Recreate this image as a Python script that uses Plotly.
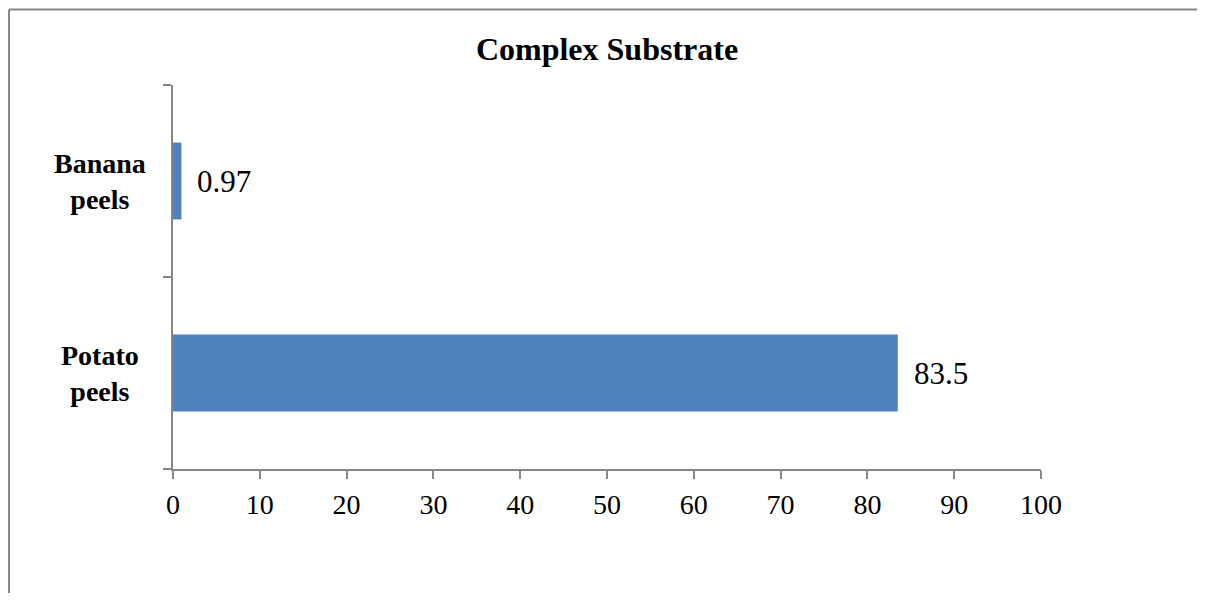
import plotly.graph_objects as go

categories = ["Potato peels", "Banana peels"]
category_labels = ["Potato<br>peels", "Banana<br>peels"]
values = [83.5, 0.97]
value_labels = ["83.5", "0.97"]
x_ticks = [0, 10, 20, 30, 40, 50, 60, 70, 80, 90, 100]
title_text = "Complex Substrate"

# the page is shown with the browser's default 8px body margin; compensate
OFF = 8
W, H = 1205 - 2 * OFF, 601 - 2 * OFF
px_left, px_right, px_top, px_bottom = 173 - OFF, 1041 - OFF, 85 - OFF, 469 - OFF
L, R, T, B = px_left, W - px_right, px_top, H - px_bottom
pw, ph = W - L - R, H - T - B

SERIF = "Liberation Serif, Times New Roman, serif"
AXIS_GRAY = "#878787"

fig = go.Figure()
fig.add_trace(go.Bar(
    x=values, y=categories, orientation="h",
    marker=dict(color="#4F81BD", line=dict(width=0)),
    hoverinfo="skip",
))

annotations = []
for c, lab in zip(categories, category_labels):
    annotations.append(dict(
        x=(100 - OFF - L) / pw, xref="paper", y=c, yref="y",
        text="<b>" + lab + "</b>", showarrow=False, xanchor="center", yanchor="middle",
        align="center", font=dict(family=SERIF, size=28, color="black"),
    ))
for c, v, t in zip(categories, values, value_labels):
    annotations.append(dict(
        x=v, xref="x", y=c, yref="y", text=t, showarrow=False,
        xanchor="left", yanchor="middle", xshift=14,
        font=dict(family=SERIF, size=31, color="black"),
    ))

# outer frame (only top and left edges are visible in the reference)
bx0 = (1 - L) / pw
bx1 = (W + 5 - L) / pw
by0 = -(B + 5) / ph
by1 = 1 + (T - (9.5 - OFF)) / ph
frame = dict(color=AXIS_GRAY, width=2)
shapes = [
    dict(type="line", xref="paper", yref="paper", x0=bx0, x1=bx1, y0=by1, y1=by1, line=frame, layer="below"),
    dict(type="line", xref="paper", yref="paper", x0=bx0, x1=bx0, y0=by0, y1=by1, line=frame, layer="below"),
]

fig.update_layout(
    width=W, height=H,
    margin=dict(l=L, r=R, t=T, b=B, pad=0),
    paper_bgcolor="white", plot_bgcolor="white",
    showlegend=False,
    bargap=0.6,
    title=dict(text="<b>" + title_text + "</b>", x=0.5,
               xref="paper", xanchor="center", y=1 - (49 - OFF) / H, yref="container", yanchor="middle",
               font=dict(family=SERIF, size=32, color="black")),
    xaxis=dict(range=[0, 100], tickvals=x_ticks, ticktext=[str(v) for v in x_ticks],
               showgrid=False, zeroline=False, showline=True, linecolor=AXIS_GRAY, linewidth=1.5,
               ticks="outside", ticklen=8, tickwidth=1.5, tickcolor=AXIS_GRAY, ticklabelstandoff=2,
               tickfont=dict(family=SERIF, size=28, color="black"), fixedrange=True),
    yaxis=dict(categoryorder="array", categoryarray=categories,
               showgrid=False, zeroline=False, showline=True, linecolor=AXIS_GRAY, linewidth=1.5,
               ticks="outside", ticklen=8, tickwidth=1.5, tickcolor=AXIS_GRAY,
               tickson="boundaries", showticklabels=False, fixedrange=True),
    annotations=annotations,
    shapes=shapes,
)

fig.write_html("out.html", config={"displayModeBar": False})
